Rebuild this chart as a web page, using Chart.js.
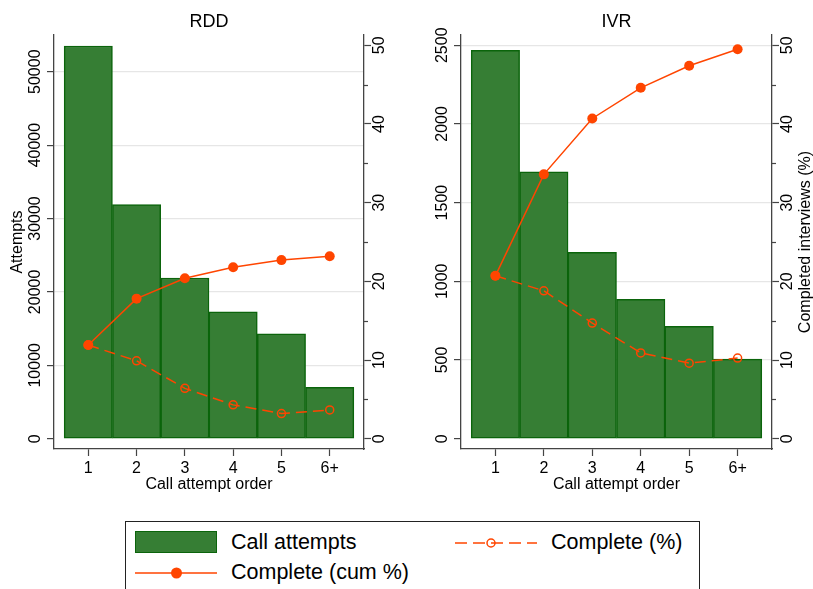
<!DOCTYPE html>
<html>
<head>
<meta charset="utf-8">
<script src="https://cdn.jsdelivr.net/npm/chart.js@4.4.1/dist/chart.umd.min.js"></script>
<style>
  body { margin: 0; width: 813px; height: 589px; overflow: hidden; background: #fff; position: relative;
         font-family: "Liberation Sans", Arial, sans-serif; color: #000; }
  .panel { position: absolute; top: 0; }
  #rddPanel { left: 0; }
  #ivrPanel { left: 406px; }
  #legend { position: absolute; left: 125px; top: 521px; width: 575px; height: 90px;
            border: 1px solid #222; box-sizing: border-box; }
  #legend .txt { position: absolute; font-size: 21.5px; line-height: 21.5px; white-space: nowrap; }
  #legend .sw { position: absolute; }
</style>
</head>
<body>
<div class="panel" id="rddPanel"><canvas id="rddChart" width="406" height="500"></canvas></div>
<div class="panel" id="ivrPanel"><canvas id="ivrChart" width="407" height="500"></canvas></div>

<div id="legend">
  <div class="sw" style="left:9px; top:9px; width:82px; height:22px; background:#367e34; border:1.5px solid #0b640b; box-sizing:border-box;"></div>
  <div class="txt" style="left:105px; top:10px;">Call attempts</div>
  <svg class="sw" style="left:9px; top:44px;" width="82" height="14">
    <line x1="0" y1="7" x2="82" y2="7" stroke="#ff4500" stroke-width="1.5"/>
    <circle cx="41.5" cy="7" r="5.5" fill="#ff4500"/>
  </svg>
  <div class="txt" style="left:105px; top:40px;">Complete (cum %)</div>
  <svg class="sw" style="left:329px; top:14px;" width="82" height="14">
    <line x1="0" y1="7" x2="82" y2="7" stroke="#ff4500" stroke-width="1.5" stroke-dasharray="12 6"/>
    <circle cx="36" cy="7" r="4" fill="none" stroke="#ff4500" stroke-width="1.5"/>
  </svg>
  <div class="txt" style="left:425px; top:10px;">Complete (%)</div>
</div>

<script>
// categories + values
var categories = ['1', '2', '3', '4', '5', '6+'];

var rddAttempts    = [53500, 31900, 21900, 17300, 14300, 7000];
var rddCompleteCum = [11.9, 17.8, 20.4, 21.8, 22.7, 23.2];
var rddComplete    = [11.9, 9.9, 6.4, 4.3, 3.2, 3.65];

var ivrAttempts    = [2467, 1696, 1184, 886, 714, 506];
var ivrCompleteCum = [20.7, 33.6, 40.7, 44.6, 47.4, 49.5];
var ivrComplete    = [20.7, 18.8, 14.7, 10.9, 9.6, 10.25];

var rddTicks      = [0, 10000, 20000, 30000, 40000, 50000];
var ivrTicks      = [0, 500, 1000, 1500, 2000, 2500];
var pctTicks      = [0, 10, 20, 30, 40, 50];
var pctMinorTicks = [5, 15, 25, 35, 45];

var FONT = '"Liberation Sans", Arial, sans-serif';
var ORANGE = '#ff4500';
var AXIS = '#444';

function toPoints(arr) {
    return arr.map(function (v, i) { return { x: i + 1, y: v }; });
}

// rotated y tick labels / axis titles (read bottom-to-top, like the source)
function axisTextPlugin(cfg) {
    return {
        id: 'axisText',
        afterDraw: function (chart) {
            var ctx = chart.ctx, area = chart.chartArea;
            var yL = chart.scales.y, yR = chart.scales.y1;
            var midY = (area.top + area.bottom) / 2;
            ctx.save();
            ctx.fillStyle = '#000';
            ctx.font = '16px ' + FONT;
            ctx.textAlign = 'center';
            ctx.textBaseline = 'middle';

            function rot(text, x, y) {
                ctx.save();
                ctx.translate(x, y);
                ctx.rotate(-Math.PI / 2);
                ctx.fillText(text, 0, 0);
                ctx.restore();
            }
            yL.ticks.forEach(function (t) {
                rot(String(t.value), area.left - 18, yL.getPixelForValue(t.value));
            });
            yR.ticks.forEach(function (t) {
                rot(String(t.value), area.right + 16, yR.getPixelForValue(t.value));
            });
            if (cfg.leftTitle) rot(cfg.leftTitle, cfg.leftTitleX, midY);
            if (cfg.rightTitle) rot(cfg.rightTitle, cfg.rightTitleX, midY);

            // minor ticks on the % axis
            ctx.strokeStyle = AXIS;
            ctx.lineWidth = 1.2;
            pctMinorTicks.forEach(function (v) {
                var py = Math.round(yR.getPixelForValue(v)) + 0.5;
                ctx.beginPath();
                ctx.moveTo(area.right, py);
                ctx.lineTo(area.right + 4, py);
                ctx.stroke();
            });
            ctx.restore();
        }
    };
}

function makePanel(canvasId, title, attempts, cum, pct, leftMax, leftMin, leftTicks, widths, texts) {
    return new Chart(document.getElementById(canvasId).getContext('2d'), {
        type: 'bar',
        data: {
            datasets: [{
                type: 'line',
                label: 'Complete (cum %)',
                data: toPoints(cum),
                yAxisID: 'y1',
                borderColor: ORANGE,
                borderWidth: 1.5,
                pointRadius: 5,
                pointBackgroundColor: ORANGE,
                pointBorderWidth: 0,
                tension: 0,
                order: 0
            }, {
                type: 'line',
                label: 'Complete (%)',
                data: toPoints(pct),
                yAxisID: 'y1',
                borderColor: ORANGE,
                borderWidth: 1.5,
                borderDash: [11, 6],
                pointRadius: 4,
                pointBackgroundColor: 'rgba(0,0,0,0)',
                pointBorderColor: ORANGE,
                pointBorderWidth: 1.5,
                tension: 0,
                order: 1
            }, {
                label: 'Call attempts',
                data: toPoints(attempts),
                yAxisID: 'y',
                backgroundColor: '#367e34',
                borderColor: '#0b640b',
                borderWidth: 1.5,
                borderSkipped: false,
                barPercentage: 1,
                categoryPercentage: 1,
                order: 2
            }]
        },
        options: {
            responsive: false,
            animation: false,
            devicePixelRatio: 1,
            layout: { padding: 0 },
            plugins: {
                legend: { display: false },
                tooltip: { enabled: false },
                title: {
                    display: true,
                    text: title,
                    fullSize: false,
                    color: '#000',
                    font: { family: FONT, size: 18, weight: 'normal' },
                    padding: { top: 11, bottom: 2.4 }
                }
            },
            scales: {
                x: {
                    type: 'linear',
                    offset: false,
                    min: 0.29,
                    max: 6.71,
                    afterBuildTicks: function (scale) {
                        scale.ticks = categories.map(function (c, i) { return { value: i + 1 }; });
                    },
                    afterFit: function (scale) { scale.height = 51; },
                    ticks: {
                        color: '#000',
                        font: { family: FONT, size: 16 },
                        padding: 3,
                        maxRotation: 0,
                        callback: function (v) { return categories[Math.round(v) - 1]; }
                    },
                    grid: { offset: false, drawOnChartArea: false, drawTicks: true, tickLength: 7, tickColor: AXIS, tickWidth: 1.2 },
                    border: { display: true, color: AXIS, width: 1.3 },
                    title: {
                        display: true,
                        text: 'Call attempt order',
                        color: '#000',
                        font: { family: FONT, size: 16 },
                        padding: { top: 4, bottom: 6 }
                    }
                },
                y: {
                    position: 'left',
                    min: leftMin,
                    max: leftMax,
                    afterBuildTicks: function (scale) {
                        scale.ticks = leftTicks.map(function (v) { return { value: v }; });
                    },
                    afterFit: function (scale) { scale.width = widths[0]; },
                    ticks: { display: false },
                    grid: {
                        color: function (c) { return c.tick && c.tick.value === 0 ? 'rgba(0,0,0,0)' : '#e6e6e6'; },
                        lineWidth: 1.2,
                        drawTicks: true,
                        tickLength: 7,
                        tickColor: AXIS,
                        tickWidth: 1.2
                    },
                    border: { display: true, color: AXIS, width: 1.3 }
                },
                y1: {
                    position: 'right',
                    min: -1.309,
                    max: 51.31,
                    afterBuildTicks: function (scale) {
                        scale.ticks = pctTicks.map(function (v) { return { value: v }; });
                    },
                    afterFit: function (scale) { scale.width = widths[1]; },
                    ticks: { display: false },
                    grid: { drawOnChartArea: false, drawTicks: true, tickLength: 7, tickColor: AXIS, tickWidth: 1.2 },
                    border: { display: true, color: AXIS, width: 1.3 }
                }
            }
        },
        plugins: [axisTextPlugin(texts)]
    });
}

// RDD panel
makePanel('rddChart', 'RDD', rddAttempts, rddCompleteCum, rddComplete,
    55000, -1403, rddTicks, [54, 42],
    { leftTitle: 'Attempts', leftTitleX: 18 });

// IVR panel
makePanel('ivrChart', 'IVR', ivrAttempts, ivrCompleteCum, ivrComplete,
    2565, -65.5, ivrTicks, [55, 41],
    { rightTitle: 'Completed interviews (%)', rightTitleX: 400 });
</script>
</body>
</html>
